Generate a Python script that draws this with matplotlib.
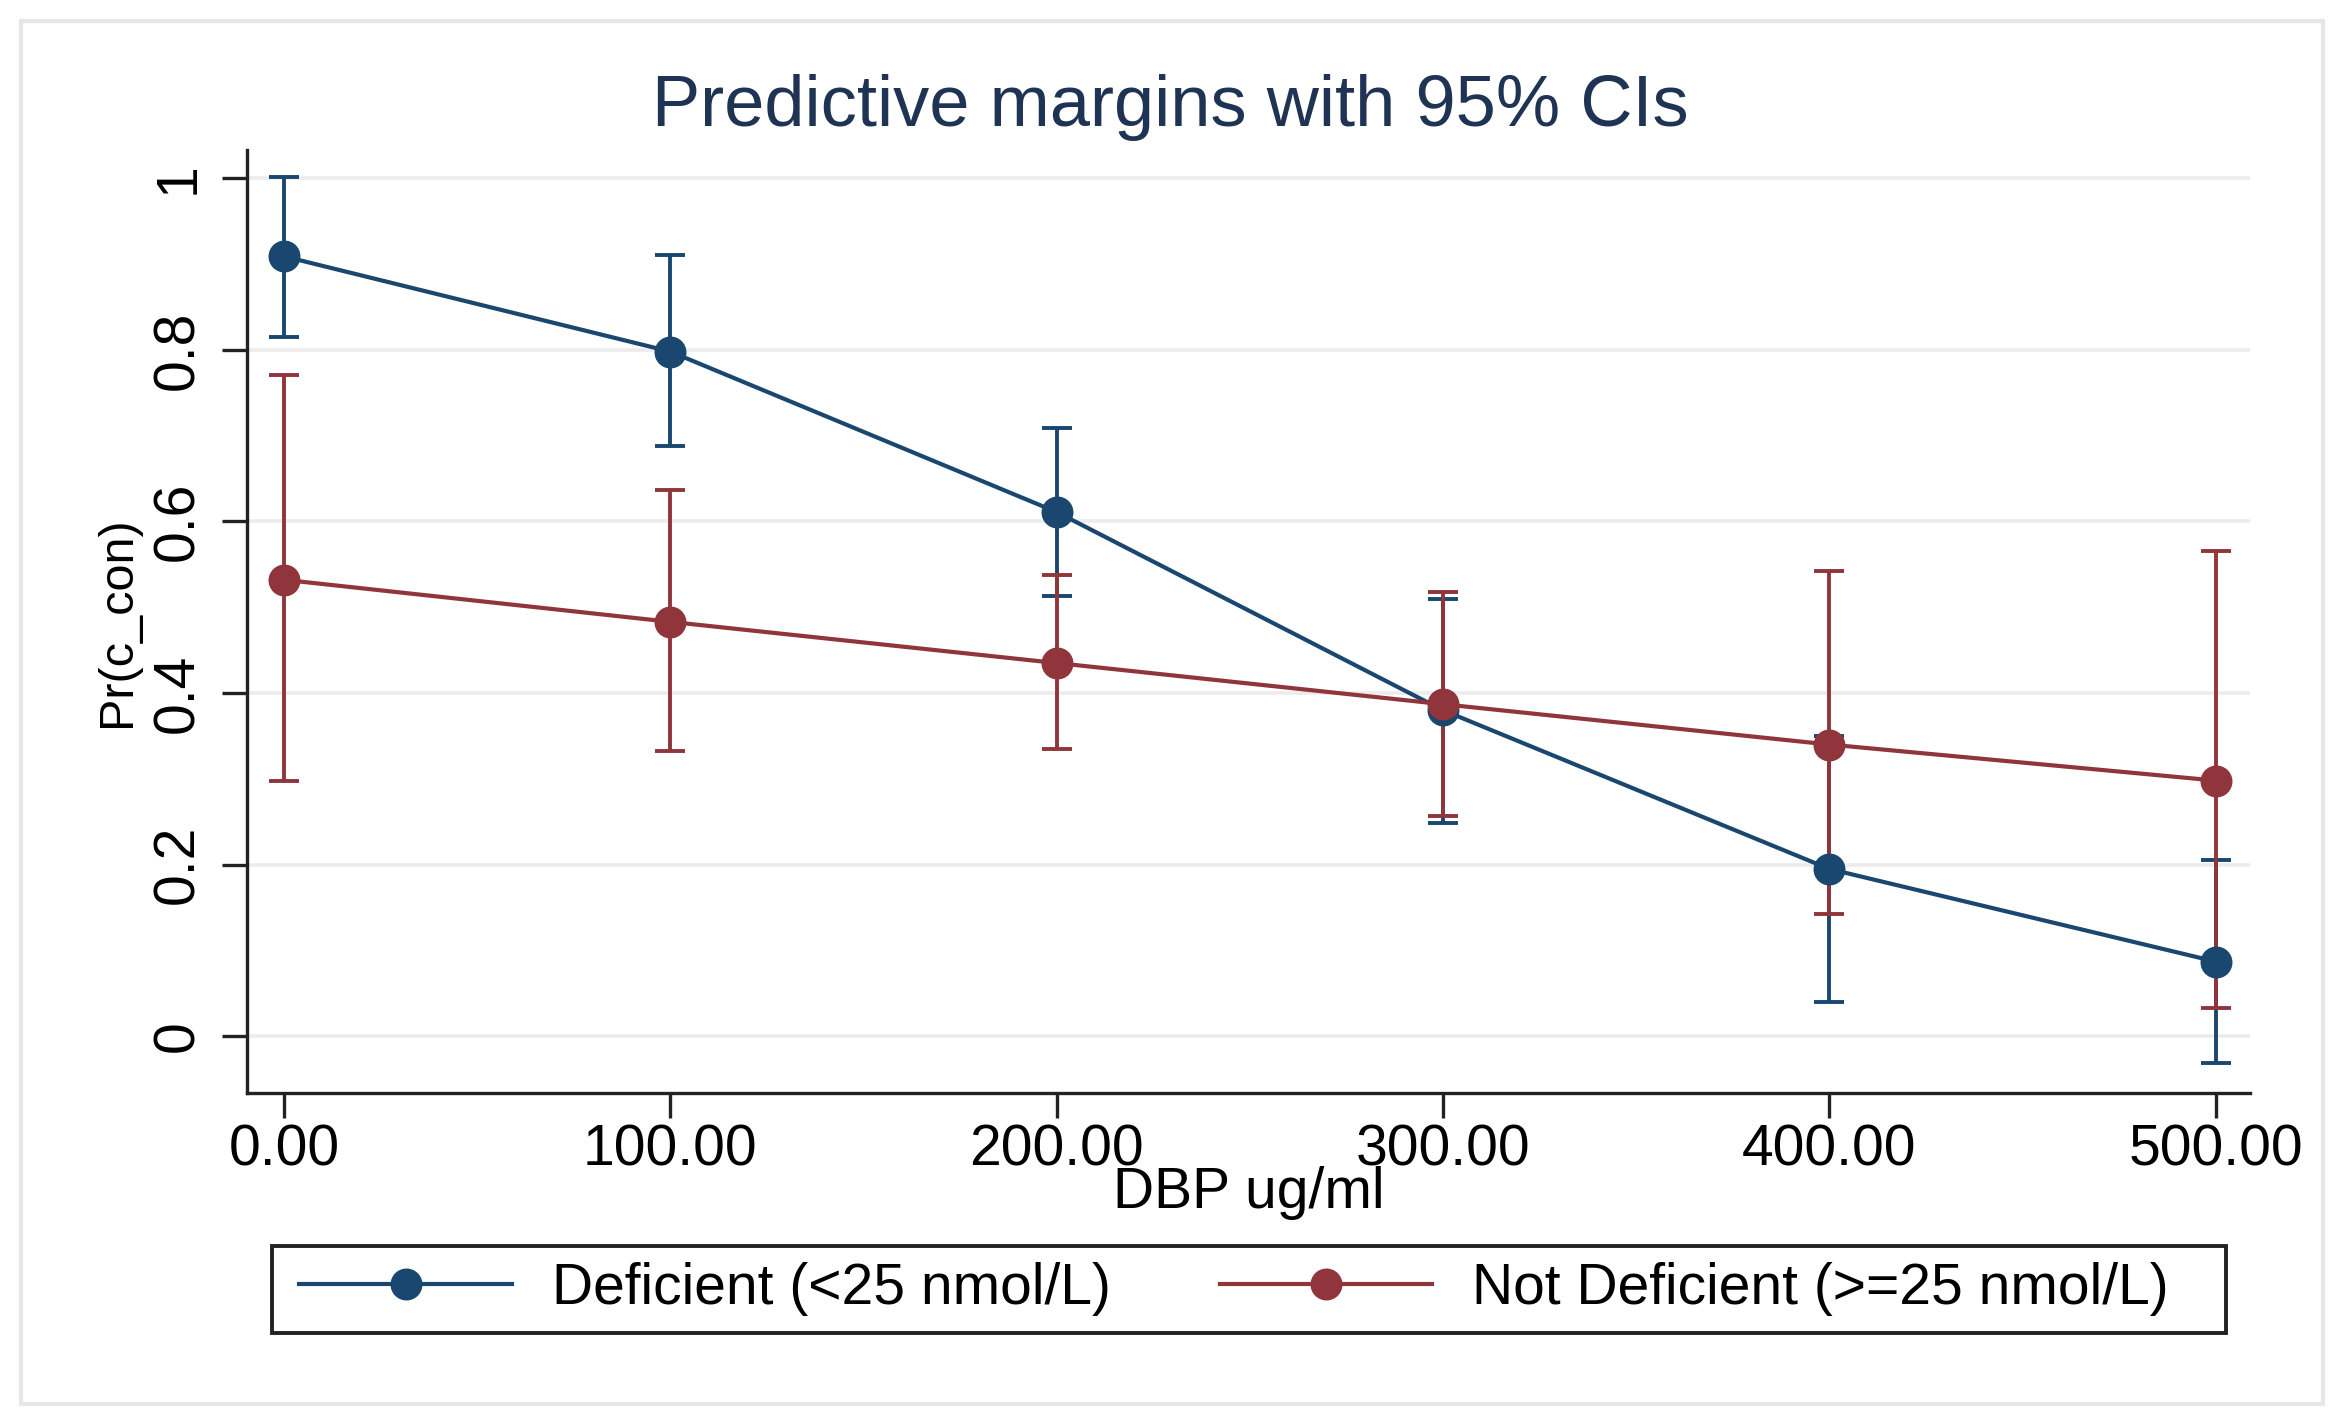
""" Predictive margins with 95% CIs (Stata-style margins plot).
"""

import numpy as np
import matplotlib.pyplot as plt
from matplotlib.patches import Rectangle


""" DATA """
dbp = [0, 100, 200, 300, 400, 500]

deficient = [0.909, 0.798, 0.611, 0.380, 0.195, 0.087]
deficient_lo = [0.815, 0.688, 0.513, 0.248, 0.040, -0.031]
deficient_hi = [1.002, 0.911, 0.709, 0.510, 0.350, 0.205]

not_deficient = [0.532, 0.483, 0.435, 0.387, 0.340, 0.298]
not_deficient_lo = [0.297, 0.332, 0.335, 0.257, 0.143, 0.033]
not_deficient_hi = [0.771, 0.637, 0.538, 0.518, 0.542, 0.566]

x_ticks = [0, 100, 200, 300, 400, 500]
x_ticklabels = ["0.00", "100.00", "200.00", "300.00", "400.00", "500.00"]
y_ticks = [0, 0.2, 0.4, 0.6, 0.8, 1.0]
y_ticklabels = ["0", "0.2", "0.4", "0.6", "0.8", "1"]

labels = ["Deficient (<25 nmol/L)", "Not Deficient (>=25 nmol/L)"]


""" STYLE """
navy = "#1a476f"
maroon = "#90353b"
plt.rcParams['font.family'] = ['Liberation Sans', 'DejaVu Sans']


def errbars(ax, y, lo, hi, color):
    y = np.array(y)
    err = [y - np.array(lo), np.array(hi) - y]
    ax.errorbar(dbp, y, yerr=err, fmt='none', ecolor=color,
                elinewidth=1.4, capsize=5.5, capthick=1.4, zorder=3)


def main():
    fig = plt.figure(figsize=(11.68, 7.115), dpi=200)
    fig.patch.set_facecolor("white")

    # light outer frame of the graph region
    fig.patches.append(Rectangle((0.009, 0.0134), 0.9854, 0.972,
                                 transform=fig.transFigure, fill=False,
                                 edgecolor="#e6e6e6", linewidth=1.5))

    ax = fig.add_axes([0.1057, 0.232, 0.8575, 0.6626])

    errbars(ax, deficient, deficient_lo, deficient_hi, navy)
    errbars(ax, not_deficient, not_deficient_lo, not_deficient_hi, maroon)

    ax.plot(dbp, deficient, color=navy, lw=1.5, marker='o', ms=10.5,
            label=labels[0], zorder=4)
    ax.plot(dbp, not_deficient, color=maroon, lw=1.5, marker='o', ms=10.5,
            label=labels[1], zorder=5)

    ax.set_xlim(-9.6, 508.9)
    ax.set_ylim(-0.066, 1.033)
    ax.set_xticks(x_ticks)
    ax.set_xticklabels(x_ticklabels, fontsize=20.5)
    ax.set_yticks(y_ticks)
    ax.set_yticklabels(y_ticklabels, fontsize=20.5, rotation=90, va='center')

    ax.yaxis.grid(True, color="#ececec", lw=1.3)
    ax.set_axisbelow(True)
    for side in ["top", "right"]:
        ax.spines[side].set_visible(False)
    for side in ["left", "bottom"]:
        ax.spines[side].set_linewidth(1.2)
        ax.spines[side].set_color("#222222")
    ax.tick_params(length=9, width=1.2, color="#222222")
    ax.tick_params(axis='x', pad=2)
    ax.tick_params(axis='y', pad=6)

    ax.set_xlabel("DBP ug/ml", fontsize=20.5, labelpad=-4)
    ax.set_ylabel("Pr(c_con)", fontsize=17.5, labelpad=4)

    fig.suptitle("Predictive margins with 95% CIs", fontsize=26,
                 color="#1f3354", x=0.501, y=0.948)

    # legend frame drawn separately, keys laid out inside it
    fig.patches.append(Rectangle((0.1164, 0.0635), 0.8365, 0.0611,
                                 transform=fig.transFigure, fill=False,
                                 edgecolor="#222222", linewidth=1.4))
    fig.legend(loc='center left', bbox_to_anchor=(0.1282, 0.094),
               ncol=2, fontsize=20.5, frameon=False, handlelength=3.73,
               borderaxespad=0, borderpad=0, handletextpad=0.7,
               columnspacing=1.92)

    fig.savefig("out.png", dpi=200)


if __name__ == "__main__":
    main()
